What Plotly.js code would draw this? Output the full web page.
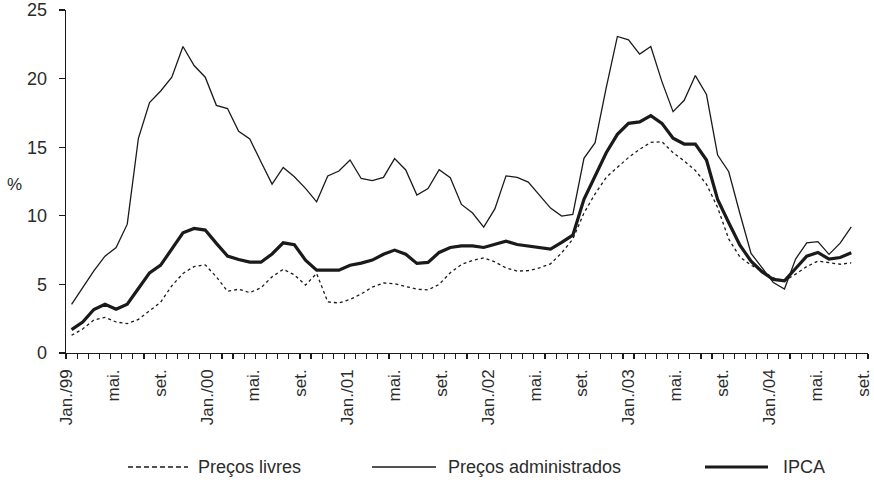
<!DOCTYPE html>
<html>
<head>
<meta charset="utf-8">
<script src="https://cdn.plot.ly/plotly-3.0.1.min.js"></script>
<style>html,body{margin:0;padding:0;background:#fff;}#chart{width:874px;height:483px;}</style>
</head>
<body>
<div id="chart"></div>
<script>
// Months Jan/99 .. Nov/04 (12-month % change)
const monthNames = ["jan","fev","mar","abr","mai","jun","jul","ago","set","out","nov","dez"];
const years = ["99","00","01","02","03","04"];
const categories = [];
years.forEach(y => monthNames.forEach(m => categories.push(m + "/" + y)));
categories.length = 71; // data through nov/04

const precosLivres = [
  1.29, 1.75, 2.4, 2.6, 2.26, 2.14, 2.45, 3.1, 3.7, 4.9, 5.8, 6.3,
  6.42, 5.55, 4.5, 4.65, 4.4, 4.75, 5.55, 6.1, 5.7, 4.95, 5.8, 3.72,
  3.65, 3.9, 4.3, 4.8, 5.1, 5.05, 4.85, 4.65, 4.6, 5.0, 5.85, 6.45,
  6.75, 6.93, 6.64, 6.2, 5.97, 6.0, 6.2, 6.5, 7.3, 8.3, 10.2, 11.6,
  12.8, 13.5, 14.25, 14.85, 15.35, 15.4, 14.6, 14.0, 13.3, 12.3, 10.6, 8.3,
  7.0, 6.4, 6.0, 5.47, 5.25, 5.75, 6.3, 6.7, 6.57, 6.47, 6.57
];
const precosAdministrados = [
  3.55, 4.82, 5.99, 7.06, 7.69, 9.39, 15.65, 18.25, 19.1, 20.1, 22.34, 20.95,
  20.1, 18.05, 17.82, 16.16, 15.6, 13.94, 12.31, 13.52, 12.85, 12.0, 11.02, 12.9,
  13.26, 14.07, 12.72, 12.56, 12.8, 14.17, 13.34, 11.51, 11.98, 13.36, 12.78, 10.83,
  10.2, 9.18, 10.5, 12.91, 12.8, 12.46, 11.48, 10.56, 9.98, 10.1, 14.19, 15.33,
  19.35, 23.07, 22.82, 21.79, 22.34, 19.78, 17.59, 18.42, 20.22, 18.84, 14.43, 13.21,
  10.17, 7.26, 6.2, 5.13, 4.66, 6.85, 8.03, 8.12, 7.19, 8.01, 9.2
];
const ipca = [
  1.7, 2.26, 3.17, 3.55, 3.19, 3.55, 4.7, 5.84, 6.4, 7.62, 8.76, 9.08,
  8.96, 7.99, 7.07, 6.82, 6.62, 6.62, 7.22, 8.03, 7.89, 6.77, 6.04, 6.04,
  6.04, 6.4, 6.55, 6.77, 7.2, 7.5, 7.2, 6.53, 6.6, 7.33, 7.69, 7.81,
  7.81, 7.69, 7.91, 8.15, 7.91, 7.79, 7.69, 7.57, 8.06, 8.59, 11.2, 12.85,
  14.6, 15.94, 16.74, 16.84, 17.3, 16.74, 15.65, 15.23, 15.23, 14.07, 11.2, 9.49,
  7.86, 6.69, 5.91, 5.36, 5.26, 6.16, 7.06, 7.33, 6.84, 6.96, 7.3
];
const tickLabels = ["Jan./99","mai.","set.","Jan./00","mai.","set.","Jan./01","mai.","set.",
                    "Jan./02","mai.","set.","Jan./03","mai.","set.","Jan./04","mai.","set."];
const seriesNames = ["Preços livres", "Preços administrados", "IPCA"];

// layout helpers
const nSlots = 72;                      // category slots on the axis
const xRange = [-0.5, nSlots - 0.5];
const xIdx = categories.map((_, i) => i);
const labelSpan = [xRange[0] + 0.05, xRange[1] - 0.45];
const labelPos = tickLabels.map((_, k) =>
  labelSpan[0] + k * (labelSpan[1] - labelSpan[0]) / (tickLabels.length - 1));

const ink = "#1a1a1a";
const txt = "#2b2b2b";
const fontFam = "Liberation Sans, Arial, sans-serif";

const traces = [
  {x: xIdx, y: precosLivres, name: seriesNames[0], mode: "lines", xaxis: "x", yaxis: "y",
   line: {color: ink, width: 1.3, dash: "3px,3px"}, showlegend: false, hoverinfo: "skip"},
  {x: xIdx, y: precosAdministrados, name: seriesNames[1], mode: "lines", xaxis: "x", yaxis: "y",
   line: {color: ink, width: 1.3}, showlegend: false, hoverinfo: "skip"},
  {x: xIdx, y: ipca, name: seriesNames[2], mode: "lines", xaxis: "x2", yaxis: "y",
   line: {color: ink, width: 3.2}, showlegend: false, hoverinfo: "skip"}
];

// custom legend (paper coords)
const L = 66, R = 868, T = 10, B = 353;
const px = v => (v - L) / (R - L);
const py = v => (B - v) / (B - T);
const legY = 467;
const legendItems = [
  {x0: 128, x1: 188, tx: 196, dash: "5px,3px", w: 1.3},
  {x0: 372, x1: 436, tx: 446, dash: "solid", w: 1.3},
  {x0: 705, x1: 768, tx: 781, dash: "solid", w: 3.2}
];
const shapes = legendItems.map(it => ({
  type: "line", xref: "paper", yref: "paper",
  x0: px(it.x0), x1: px(it.x1), y0: py(legY), y1: py(legY),
  line: {color: ink, width: it.w, dash: it.dash}
}));
const annotations = legendItems.map((it, i) => ({
  xref: "paper", yref: "paper", x: px(it.tx), y: py(legY), xanchor: "left", yanchor: "middle",
  text: seriesNames[i], showarrow: false, font: {family: fontFam, size: 18, color: txt}
}));
annotations.push({
  xref: "paper", yref: "paper", x: px(14), y: py(184), xanchor: "center", yanchor: "middle",
  text: "%", showarrow: false, font: {family: fontFam, size: 17, color: txt}
});

const layout = {
  width: 874, height: 483,
  margin: {l: L, r: 874 - R, t: T, b: 483 - B, pad: 0},
  paper_bgcolor: "#fff", plot_bgcolor: "#fff",
  showlegend: false,
  font: {family: fontFam, color: txt, size: 17},
  xaxis: {
    range: xRange, showgrid: false, zeroline: false, showline: false,
    tickmode: "array", tickvals: labelPos, ticktext: tickLabels,
    ticks: "", tickangle: -90, ticklabelstandoff: 12, ticklabeloverflow: "allow",
    tickfont: {family: fontFam, size: 17, color: txt}, fixedrange: true
  },
  xaxis2: {
    range: xRange, overlaying: "x", anchor: "y", side: "bottom",
    showgrid: false, zeroline: false, showline: true, linecolor: ink, linewidth: 1.3,
    tickmode: "linear", tick0: -0.5, dtick: 1, ticks: "outside", ticklen: 5,
    tickwidth: 1.2, tickcolor: ink, showticklabels: false, fixedrange: true
  },
  yaxis: {
    range: [0, 25], dtick: 5, tick0: 0, showgrid: false, zeroline: false,
    showline: true, linecolor: ink, linewidth: 1.3,
    ticks: "outside", ticklen: 6, tickwidth: 1.2, tickcolor: ink,
    ticklabelstandoff: 8,
    tickfont: {family: fontFam, size: 18, color: txt}, fixedrange: true
  },
  shapes: shapes,
  annotations: annotations
};

Plotly.newPlot("chart", traces, layout, {displayModeBar: false, staticPlot: true});
</script>
</body>
</html>
